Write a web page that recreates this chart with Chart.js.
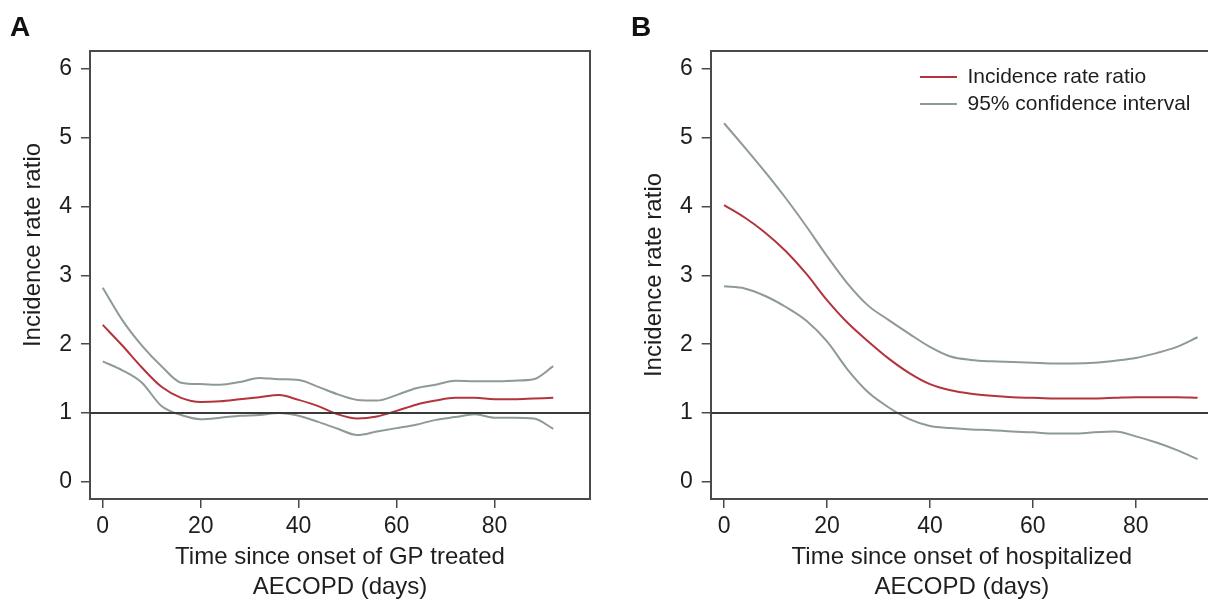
<!DOCTYPE html>
<html>
<head>
<meta charset="utf-8">
<script src="https://cdn.jsdelivr.net/npm/chart.js@4.4.1/dist/chart.umd.min.js"></script>
<style>
    html, body { margin: 0; padding: 0; background: #fff; overflow: hidden; width: 1208px; height: 603px; }
    canvas { position: absolute; top: 0; }
    #chartA { left: 0; }
    #chartB { left: 620px; }
</style>
</head>
<body>
<canvas id="chartA" width="604" height="603"></canvas>
<canvas id="chartB" width="620" height="603"></canvas>
<script>
// days since onset (both panels sampled alike)
var days = [0, 4, 8, 12, 16, 20, 24, 28, 32, 36, 40, 44, 48, 52, 56, 60, 64, 68, 72, 76, 80, 84, 88, 92];

// panel A: GP treated
var irrA   = [2.28, 1.98, 1.66, 1.38, 1.22, 1.16, 1.17, 1.20, 1.23, 1.26, 1.19, 1.10, 0.98, 0.92, 0.95, 1.03, 1.12, 1.18, 1.22, 1.22, 1.20, 1.20, 1.21, 1.22];
var upperA = [2.82, 2.35, 1.98, 1.68, 1.44, 1.42, 1.41, 1.45, 1.51, 1.49, 1.48, 1.38, 1.27, 1.19, 1.18, 1.26, 1.36, 1.41, 1.47, 1.46, 1.46, 1.47, 1.49, 1.68];
var lowerA = [1.75, 1.62, 1.44, 1.10, 0.97, 0.91, 0.93, 0.96, 0.97, 1.00, 0.96, 0.87, 0.77, 0.68, 0.73, 0.78, 0.83, 0.90, 0.94, 0.98, 0.93, 0.93, 0.92, 0.77];

// panel B: hospitalized
var irrB   = [4.02, 3.84, 3.62, 3.35, 3.02, 2.64, 2.31, 2.04, 1.79, 1.58, 1.42, 1.33, 1.28, 1.25, 1.23, 1.22, 1.21, 1.21, 1.21, 1.22, 1.23, 1.23, 1.23, 1.22];
var upperB = [5.21, 4.86, 4.50, 4.12, 3.71, 3.28, 2.88, 2.56, 2.35, 2.15, 1.96, 1.82, 1.77, 1.75, 1.74, 1.73, 1.72, 1.72, 1.73, 1.76, 1.80, 1.87, 1.96, 2.10];
var lowerB = [2.84, 2.81, 2.70, 2.54, 2.34, 2.04, 1.63, 1.30, 1.08, 0.91, 0.81, 0.78, 0.76, 0.75, 0.73, 0.72, 0.70, 0.70, 0.72, 0.73, 0.66, 0.57, 0.46, 0.33];

var xTicks = [0, 20, 40, 60, 80];
var yTicks = [0, 1, 2, 3, 4, 5, 6];
var xRangeA = [-2.6, 99.5];
var xRangeB = [-2.6, 95.0];
var yRange = [-0.25, 6.26];
var refValue = 1;

var FONT = "'Liberation Sans', Arial, Helvetica, sans-serif";
var RED = '#b3343d';
var GREY = '#8e9a96';
var AXIS = '#4a4a4a';
var TEXT = '#1e1e1e';

function pts(xs, ys) {
    var out = [];
    for (var i in xs) {
        out.push({x: xs[i], y: ys[i]});
    }
    return out;
}

function line(label, data, color, width) {
    return {
        label: label,
        data: data,
        borderColor: color,
        backgroundColor: color,
        borderWidth: width,
        pointRadius: 0,
        fill: false,
        cubicInterpolationMode: 'monotone'
    };
}

function fixTicks(list) {
    return function (scale) {
        scale.ticks = list.map(function (v) { return {value: v}; });
    };
}

// moves the legend inside the plot box (top right)
var legendInside = {
    id: 'legendInside',
    afterLayout: function (chart) {
        var pos = chart.options.plugins.legendInside;
        if (!pos || !chart.legend) return;
        chart.legend.left = pos.left;
        chart.legend.top = pos.top;
    }
};

function makeChart(id, panel, irr, upper, lower, xTitle, cfg) {
    var ctx = document.getElementById(id);
    var showLegend = !!cfg.legend;
    var xRange = cfg.xRange;

    return new Chart(ctx, {
        type: 'line',
        data: {
            datasets: [
                line('ref', [{x: xRange[0], y: refValue}, {x: xRange[1], y: refValue}], '#3a3a3a', 2),
                line('Incidence rate ratio', pts(days, irr), RED, 2),
                line('95% confidence interval', pts(days, upper), GREY, 2),
                line('lower', pts(days, lower), GREY, 2)
            ]
        },
        options: {
            responsive: false,
            animation: false,
            devicePixelRatio: 1,
            layout: {padding: {left: cfg.padLeft, right: cfg.padRight, top: 0, bottom: 0}},
            plugins: {
                tooltip: {enabled: false},
                title: {
                    display: true,
                    text: panel,
                    align: 'start',
                    color: '#111',
                    font: {family: FONT, size: 28, weight: 'bold', lineHeight: 1},
                    padding: {top: 14, bottom: 9}
                },
                legend: {
                    display: showLegend,
                    position: 'chartArea',
                    align: 'start',
                    labels: {
                        boxWidth: 37,
                        boxHeight: 0,
                        padding: 6,
                        color: TEXT,
                        font: {family: FONT, size: 21},
                        filter: function (item) {
                            return item.text !== 'ref' && item.text !== 'lower';
                        }
                    }
                },
                legendInside: cfg.legend || false
            },
            scales: {
                x: {
                    type: 'linear',
                    position: 'bottom',
                    min: xRange[0],
                    max: xRange[1],
                    afterBuildTicks: fixTicks(xTicks),
                    afterFit: function (s) { s.height = 104; },
                    grid: {display: true, drawOnChartArea: false, drawTicks: true, tickLength: 9, color: AXIS, lineWidth: 1.5},
                    border: {display: true, color: AXIS, width: 2},
                    ticks: {autoSkip: false, maxRotation: 0, padding: 5, color: TEXT, font: {family: FONT, size: 23}},
                    title: {
                        display: true,
                        text: xTitle,
                        color: TEXT,
                        font: {family: FONT, size: 24, lineHeight: 1.27},
                        padding: {top: 0, bottom: 0}
                    }
                },
                x2: {
                    type: 'linear',
                    position: 'top',
                    min: xRange[0],
                    max: xRange[1],
                    afterFit: function (s) { s.height = 0; },
                    grid: {display: false},
                    ticks: {display: false},
                    border: {display: true, color: AXIS, width: 2}
                },
                y: {
                    type: 'linear',
                    position: 'left',
                    min: yRange[0],
                    max: yRange[1],
                    afterBuildTicks: fixTicks(yTicks),
                    afterFit: function (s) { s.width = cfg.yWidth; },
                    grid: {display: true, drawOnChartArea: false, drawTicks: true, tickLength: 9, color: AXIS, lineWidth: 1.5},
                    border: {display: true, color: AXIS, width: 2},
                    ticks: {autoSkip: false, padding: 9, color: TEXT, font: {family: FONT, size: 23}},
                    title: {
                        display: true,
                        // leading blanks push the label up the axis, as in panel A of the original
                        text: cfg.yLead + 'Incidence rate ratio',
                        color: TEXT,
                        font: {family: FONT, size: 24, lineHeight: 1.25},
                        padding: {top: cfg.titlePad, bottom: 0}
                    }
                },
                y2: {
                    type: 'linear',
                    position: 'right',
                    min: yRange[0],
                    max: yRange[1],
                    afterFit: function (s) { s.width = 0; },
                    grid: {display: false},
                    ticks: {display: false},
                    border: {display: true, color: AXIS, width: 2}
                }
            }
        },
        plugins: [legendInside]
    });
}

makeChart('chartA', 'A', irrA, upperA, lowerA,
    ['Time since onset of GP treated', 'AECOPD (days)'],
    {padLeft: 10, padRight: 14, yWidth: 80, titlePad: 8.5, yLead: '         ', xRange: xRangeA, legend: null});

makeChart('chartB', 'B', irrB, upperB, lowerB,
    ['Time since onset of hospitalized', 'AECOPD (days)'],
    {padLeft: 11, padRight: 27, yWidth: 79.7, titlePad: 8, yLead: '', xRange: xRangeB, legend: {left: 294, top: 60.5}});
</script>
</body>
</html>
